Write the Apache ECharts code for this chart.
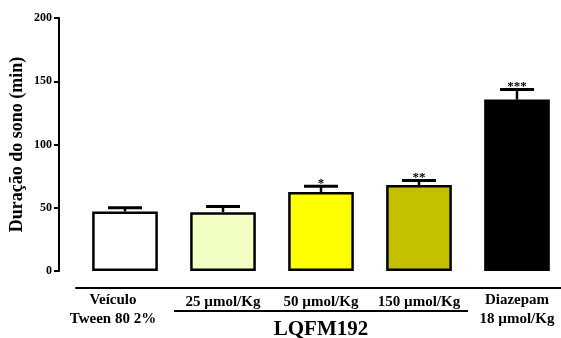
<!DOCTYPE html>
<html>
<head>
<meta charset="utf-8">
<script src="https://cdn.jsdelivr.net/npm/echarts@6/dist/echarts.min.js"></script>
<style>html,body{margin:0;padding:0;background:#fff}#c{width:561px;height:338px}</style>
</head>
<body>
<div id="c"></div>
<script>
var categories = ['Veículo\nTween 80 2%', '25 µmol/Kg', '50 µmol/Kg', '150 µmol/Kg', 'Diazepam\n18 µmol/Kg'];
var means = [47, 46.5, 62.5, 68, 135.5];
var errors = [3, 4.5, 4.5, 3.5, 8];
var stars = ['', '', '*', '**', '***'];
var barColors = ['#ffffff', '#f2ffc2', '#ffff00', '#c4c000', '#000000'];
var yTicks = [0, 50, 100, 150, 200];
var groupLabel = 'LQFM192';
var groupMembers = [1, 2, 3];
var yTitle = 'Duração do sono (min)';

var FONT = '"Liberation Serif", "Times New Roman", serif';
var chart = echarts.init(document.getElementById('c'));
var option = {
  animation: false,
  grid: { left: 76, top: 18, width: 490, height: 253, containLabel: false, outerBoundsMode: 'none' },
  xAxis: {
    type: 'category',
    data: categories,
    offset: 17,
    axisLine: { onZero: false, lineStyle: { color: '#000', width: 2 } },
    axisTick: { show: false },
    axisLabel: {
      interval: 0,
      margin: 3,
      verticalAlign: 'top',
      fontFamily: FONT, fontWeight: 'bold', fontSize: 15, color: '#000',
      lineHeight: 19,
      formatter: function (v, idx) {
        if (idx === 0) {
          return v.split('\n').map(function (l) { return '{f|' + l + '}'; }).join('\n');
        }
        if (v.indexOf('\n') >= 0) return v;
        return '{s|' + v + '}';
      },
      rich: {
        s: { fontFamily: FONT, fontWeight: 'bold', fontSize: 15, lineHeight: 19, color: '#000', padding: [4, 0, 0, 0] },
        f: { fontFamily: FONT, fontWeight: 'bold', fontSize: 15, lineHeight: 19, color: '#000', padding: [0, 24, 0, 0] }
      }
    }
  },
  yAxis: {
    type: 'value',
    min: yTicks[0], max: yTicks[yTicks.length - 1], interval: 50,
    offset: 17,
    name: yTitle,
    nameLocation: 'middle',
    nameGap: 33,
    nameMoveOverlap: false,
    nameTextStyle: { fontFamily: FONT, fontWeight: 'bold', fontSize: 18, color: '#000' },
    axisLine: { show: true, onZero: false, lineStyle: { color: '#000', width: 2 } },
    axisTick: { show: true, length: 5, lineStyle: { color: '#000', width: 2 } },
    axisLabel: { margin: 7, fontFamily: FONT, fontWeight: 'bold', fontSize: 12, color: '#000' },
    splitLine: { show: false }
  },
  series: [
    {
      type: 'bar',
      barWidth: '67%',
      data: means.map(function (v, i) {
        return { value: v, itemStyle: { color: barColors[i], borderColor: '#000', borderWidth: 2.5 } };
      })
    },
    {
      type: 'custom',
      data: means.map(function (v, i) { return [i, v, v + errors[i], stars[i]]; }),
      renderItem: function (params, api) {
        var i = api.value(0);
        var base = api.coord([i, api.value(1)]);
        var top = api.coord([i, api.value(2)]);
        var half = 17;
        var children = [
          { type: 'line', shape: { x1: base[0], y1: base[1], x2: top[0], y2: top[1] }, style: { stroke: '#000', lineWidth: 2.5 } },
          { type: 'line', shape: { x1: top[0] - half, y1: top[1], x2: top[0] + half, y2: top[1] }, style: { stroke: '#000', lineWidth: 3 } }
        ];
        var s = stars[params.dataIndex];
        if (s) {
          children.push({ type: 'text', style: { text: s, x: top[0], y: top[1] - 3, align: 'center', verticalAlign: 'middle', font: 'bold 13px ' + FONT, fill: '#000' } });
        }
        return { type: 'group', children: children };
      },
      z: 5
    }
  ]
};
chart.setOption(option);

// group annotation (underline + label) computed from the category scale
var p0 = chart.convertToPixel({ xAxisIndex: 0 }, groupMembers[0]);
var p1 = chart.convertToPixel({ xAxisIndex: 0 }, groupMembers[groupMembers.length - 1]);
var pc = chart.convertToPixel({ xAxisIndex: 0 }, groupMembers[Math.floor(groupMembers.length / 2)]);
var step = chart.convertToPixel({ xAxisIndex: 0 }, 1) - chart.convertToPixel({ xAxisIndex: 0 }, 0);
var yZero = chart.convertToPixel({ yAxisIndex: 0 }, 0);
chart.setOption({
  graphic: [
    { type: 'line', shape: { x1: p0 - step / 2, y1: yZero + 40, x2: p1 + step / 2, y2: yZero + 40 }, style: { stroke: '#000', lineWidth: 2 } },
    { type: 'text', style: { text: groupLabel, x: pc, y: yZero + 59, align: 'center', verticalAlign: 'middle', font: 'bold 21px ' + FONT, fill: '#000' } }
  ]
});
</script>
</body>
</html>
